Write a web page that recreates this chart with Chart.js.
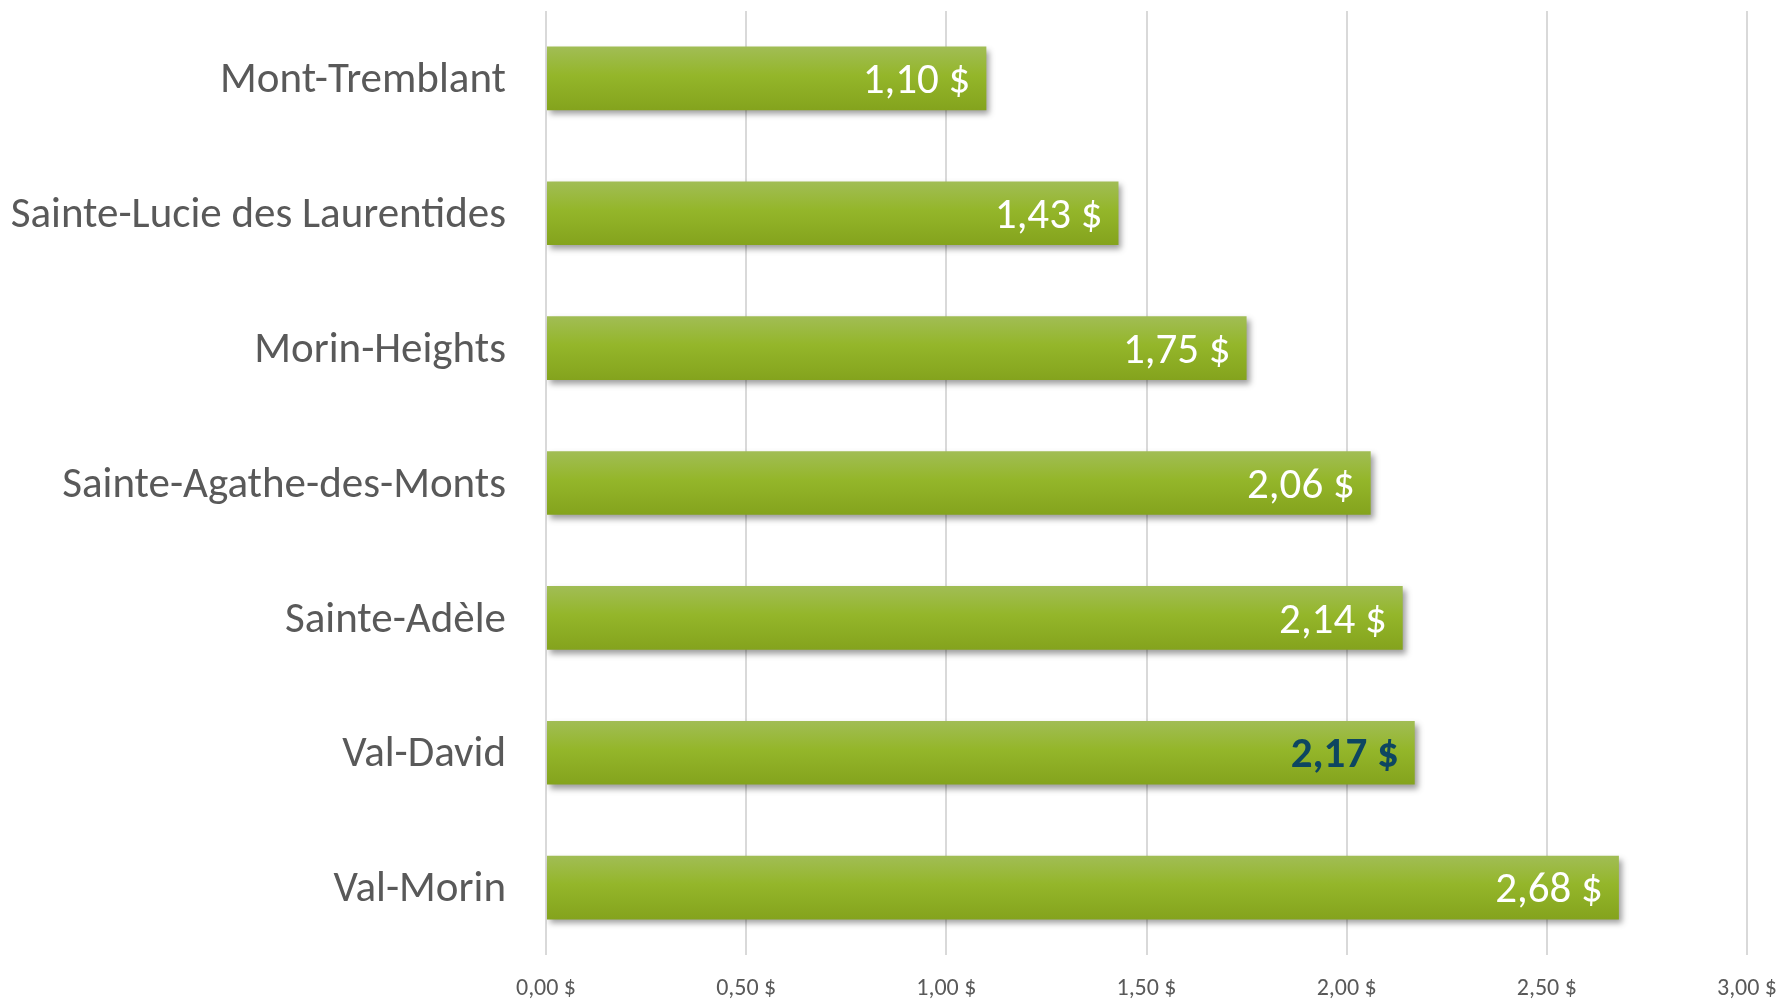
<!DOCTYPE html>
<html>
<head>
<meta charset="utf-8">
<script src="https://cdn.jsdelivr.net/npm/chart.js@4/dist/chart.umd.min.js"></script>
<style>
  html, body { margin: 0; padding: 0; background: #fff; }
  #wrap { width: 1783px; height: 999px; }
</style>
</head>
<body>
<div id="wrap"><canvas id="chart" width="1783" height="999"></canvas></div>
<script>
// Data
const municipalites = [
  'Mont-Tremblant',
  'Sainte-Lucie des Laurentides',
  'Morin-Heights',
  'Sainte-Agathe-des-Monts',
  'Sainte-Adèle',
  'Val-David',
  'Val-Morin'
];
const montants = [1.10, 1.43, 1.75, 2.06, 2.14, 2.17, 2.68];
const tickValues = [0, 0.5, 1, 1.5, 2, 2.5, 3];
const highlighted = 'Val-David';

const FONT = 'Carlito, Calibri, Lato, sans-serif';
const fmt = v => v.toFixed(2).replace('.', ',') + ' $';

const CAT_PCT = 0.8;
const BAR_PCT = 0.59;

// vertical gradient per bar, positioned from the category scale
function barGradient(c) {
  const chart = c.chart;
  const y = chart.scales && chart.scales.y;
  if (!y || !chart.chartArea) return '#93b52a';
  const step = Math.abs(y.getPixelForValue(1) - y.getPixelForValue(0));
  const h = step * CAT_PCT * BAR_PCT;
  const yc = y.getPixelForValue(c.dataIndex);
  const g = chart.ctx.createLinearGradient(0, yc - h / 2, 0, yc + h / 2);
  g.addColorStop(0, '#a1bd55');
  g.addColorStop(0.45, '#94b62a');
  g.addColorStop(1, '#84a31d');
  return g;
}

const shadowPlugin = {
  id: 'barShadow',
  beforeDatasetsDraw(chart) {
    const ctx = chart.ctx;
    ctx.save();
    ctx.shadowColor = 'rgba(0,0,0,0.38)';
    ctx.shadowBlur = 6;
    ctx.shadowOffsetX = 3;
    ctx.shadowOffsetY = 4;
  },
  afterDatasetsDraw(chart) {
    chart.ctx.restore();
  }
};

const valueLabels = {
  id: 'valueLabels',
  afterDraw(chart) {
    const ctx = chart.ctx;
    const meta = chart.getDatasetMeta(0);
    ctx.save();
    ctx.textAlign = 'right';
    ctx.textBaseline = 'middle';
    meta.data.forEach((bar, i) => {
      const hi = municipalites[i] === highlighted;
      ctx.font = (hi ? 'bold ' : '') + '43px ' + FONT;
      ctx.fillStyle = hi ? '#0d4661' : '#ffffff';
      ctx.fillText(fmt(montants[i]), bar.x - 16, bar.y + 4);
    });
    ctx.restore();
  }
};

new Chart(document.getElementById('chart'), {
  type: 'bar',
  data: {
    labels: municipalites,
    datasets: [{
      data: montants,
      backgroundColor: barGradient,
      borderWidth: 0,
      categoryPercentage: CAT_PCT,
      barPercentage: BAR_PCT
    }]
  },
  options: {
    indexAxis: 'y',
    responsive: false,
    animation: false,
    layout: { padding: { top: 11, right: 36, left: 0, bottom: 0 } },
    plugins: {
      legend: { display: false },
      tooltip: { enabled: false }
    },
    scales: {
      x: {
        min: 0,
        max: 3,
        afterBuildTicks(axis) {
          axis.ticks = tickValues.map(v => ({ value: v }));
        },
        afterFit(axis) {
          axis.height = 44;
          axis.paddingLeft = 0;
          axis.paddingRight = 0;
        },
        border: { display: false },
        grid: { color: '#d9d9d9', lineWidth: 2, drawTicks: false },
        ticks: {
          padding: 20,
          color: '#595959',
          font: { family: FONT, size: 24 },
          callback: v => fmt(v)
        }
      },
      y: {
        afterFit(axis) {
          axis.width = 546;
          axis.paddingTop = 0;
          axis.paddingBottom = 0;
        },
        border: { display: false },
        grid: { display: false, drawTicks: false },
        ticks: {
          padding: 40,
          labelOffset: 3,
          color: '#595959',
          font: { family: FONT, size: 43 }
        }
      }
    }
  },
  plugins: [shadowPlugin, valueLabels]
});
</script>
</body>
</html>
